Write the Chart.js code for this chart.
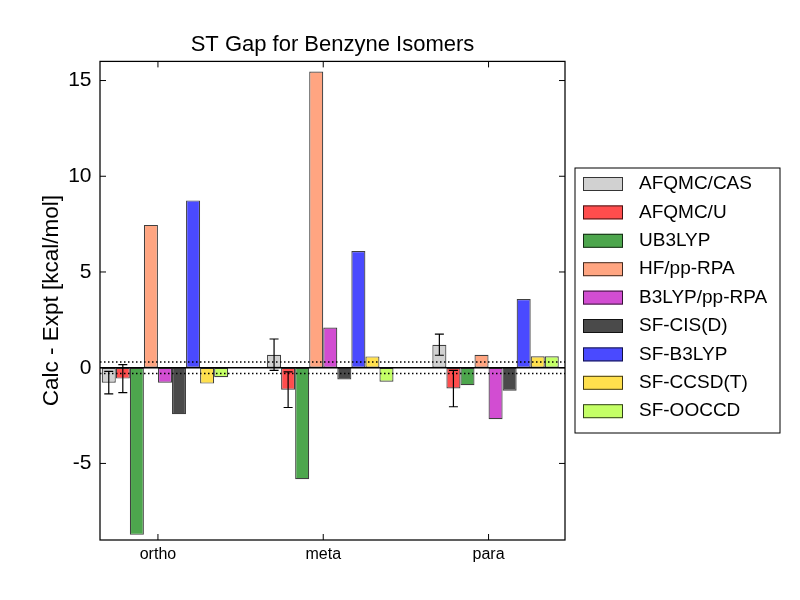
<!DOCTYPE html>
<html>
<head>
<meta charset="utf-8">
<title>ST Gap for Benzyne Isomers</title>
<script src="https://cdn.jsdelivr.net/npm/chart.js@4.4.0/dist/chart.umd.min.js"></script>
<style>
  html, body { margin: 0; padding: 0; background: #fff; }
</style>
</head>
<body>
<canvas id="gapChart" width="800" height="600"></canvas>
<script>
// isomers on the x axis
const groups = ['ortho', 'meta', 'para'];
const groupPos = [0, 1, 2];
const barWidth = 0.085;
const yTicks = [-5, 0, 5, 10, 15];
const exptErr = 0.3;

// Calc - Expt values (kcal/mol), one array per method
const afqmcCas = [-0.78, 0.68, 1.2];
const afqmcCasErr = [0.59, 0.82, 0.55];
const afqmcU = [-0.57, -1.15, -1.09];
const afqmcUErr = [0.73, 0.93, 0.95];
const ub3lyp = [-8.73, -5.83, -0.92];
const hfPpRpa = [7.46, 15.47, 0.68];
const b3lypPpRpa = [-0.78, 2.1, -2.69];
const sfCisD = [-2.43, -0.62, -1.2];
const sfB3lyp = [8.74, 6.1, 3.59];
const sfCcsdT = [-0.83, 0.59, 0.6];
const sfOoccd = [-0.5, -0.73, 0.6];

Chart.defaults.font.family = "'Liberation Sans', Arial, sans-serif";
Chart.defaults.color = '#000';

function makeSet(label, values, color, errors) {
  return {
    label: label,
    data: groupPos.map((p, i) => ({ x: p, y: values[i] })),
    backgroundColor: color,
    borderColor: 'rgba(0, 0, 0, 0.75)',
    borderWidth: 1.2,
    borderSkipped: false,
    errors: errors || null,
  };
}

const datasets = [
  makeSet('AFQMC/CAS', afqmcCas, '#d1d1d1', afqmcCasErr),
  makeSet('AFQMC/U', afqmcU, '#ff4d4d', afqmcUErr),
  makeSet('UB3LYP', ub3lyp, '#4da64d'),
  makeSet('HF/pp-RPA', hfPpRpa, '#ffa581'),
  makeSet('B3LYP/pp-RPA', b3lypPpRpa, '#d24dd2'),
  makeSet('SF-CIS(D)', sfCisD, '#4a4a4a'),
  makeSet('SF-B3LYP', sfB3lyp, '#4a4aff'),
  makeSet('SF-CCSD(T)', sfCcsdT, '#ffe04d'),
  makeSet('SF-OOCCD', sfOoccd, '#c4ff66'),
];

// zero line, expt error band, error bars, frame and inward ticks
const decorations = {
  id: 'decorations',
  afterDatasetsDraw(chart) {
    const ctx = chart.ctx;
    const area = chart.chartArea;
    const xs = chart.scales.x;
    const ys = chart.scales.y;
    ctx.save();

    ctx.strokeStyle = '#000';
    ctx.lineWidth = 1.5;
    ctx.beginPath();
    ctx.moveTo(area.left, ys.getPixelForValue(0));
    ctx.lineTo(area.right, ys.getPixelForValue(0));
    ctx.stroke();

    ctx.setLineDash([1.5, 2.5]);
    [exptErr, -exptErr].forEach(v => {
      const y = ys.getPixelForValue(v);
      ctx.beginPath();
      ctx.moveTo(area.left, y);
      ctx.lineTo(area.right, y);
      ctx.stroke();
    });
    ctx.setLineDash([]);

    ctx.lineWidth = 1.2;
    chart.data.datasets.forEach((ds, i) => {
      if (!ds.errors) return;
      chart.getDatasetMeta(i).data.forEach((bar, j) => {
        const v = ds.data[j].y;
        const top = ys.getPixelForValue(v + ds.errors[j]);
        const bot = ys.getPixelForValue(v - ds.errors[j]);
        ctx.beginPath();
        ctx.moveTo(bar.x, top);
        ctx.lineTo(bar.x, bot);
        ctx.moveTo(bar.x - 4.5, top);
        ctx.lineTo(bar.x + 4.5, top);
        ctx.moveTo(bar.x - 4.5, bot);
        ctx.lineTo(bar.x + 4.5, bot);
        ctx.stroke();
      });
    });

    ctx.lineWidth = 1.25;
    ctx.strokeRect(area.left, area.top, area.right - area.left, area.bottom - area.top);
    ctx.lineWidth = 1;
    ctx.beginPath();
    ys.ticks.forEach(t => {
      const y = ys.getPixelForValue(t.value);
      ctx.moveTo(area.left, y);
      ctx.lineTo(area.left + 6, y);
      ctx.moveTo(area.right, y);
      ctx.lineTo(area.right - 6, y);
    });
    xs.ticks.forEach(t => {
      const x = xs.getPixelForValue(t.value);
      ctx.moveTo(x, area.bottom);
      ctx.lineTo(x, area.bottom - 6);
      ctx.moveTo(x, area.top);
      ctx.lineTo(x, area.top + 6);
    });
    ctx.stroke();
    ctx.restore();
  },
  // boxed legend to the right of the plot
  afterDraw(chart) {
    const ctx = chart.ctx;
    const left = 575, top = 168, w = 205, h = 265;
    const rowH = 28.4;
    ctx.save();
    ctx.fillStyle = '#fff';
    ctx.fillRect(left, top, w, h);
    ctx.strokeStyle = '#000';
    ctx.lineWidth = 1;
    ctx.strokeRect(left, top, w, h);
    ctx.font = "19px 'Liberation Sans', Arial, sans-serif";
    ctx.textBaseline = 'middle';
    chart.data.datasets.forEach((ds, i) => {
      const cy = top + 16 + i * rowH;
      ctx.fillStyle = ds.backgroundColor;
      ctx.fillRect(left + 8, cy - 7, 40, 14);
      ctx.strokeStyle = ds.borderColor;
      ctx.strokeRect(left + 8.5, cy - 6.5, 39, 13);
      ctx.fillStyle = '#000';
      ctx.fillText(ds.label, left + 64, cy);
    });
    ctx.restore();
  }
};

const ctx = document.getElementById('gapChart').getContext('2d');
new Chart(ctx, {
  type: 'bar',
  data: { datasets: datasets },
  options: {
    responsive: false,
    animation: false,
    categoryPercentage: barWidth * datasets.length,
    barPercentage: 1.0,
    layout: { padding: { top: 0, right: 235, bottom: 0, left: 0 } },
    plugins: {
      legend: { display: false },
      tooltip: { enabled: false },
      title: {
        display: true,
        text: 'ST Gap for Benzyne Isomers',
        fullSize: false,
        color: '#000',
        font: { size: 22, weight: 'normal' },
        padding: { top: 32, bottom: 3 },
      },
    },
    scales: {
      x: {
        type: 'linear',
        min: -0.393,
        max: 2.42,
        offset: false,
        grid: { display: false, drawTicks: false },
        border: { display: false },
        afterBuildTicks: (scale) => {
          scale.ticks = groupPos.map(p => ({ value: p - barWidth / 2 }));
        },
        ticks: {
          padding: 5,
          autoSkip: false,
          maxRotation: 0,
          font: { size: 16 },
          callback: (value, index) => groups[index],
        },
        afterFit: (scale) => { scale.height = 60; },
      },
      y: {
        min: -9,
        max: 16,
        grid: { display: false, drawTicks: false },
        border: { display: false },
        afterBuildTicks: (scale) => {
          scale.ticks = yTicks.map(v => ({ value: v }));
        },
        ticks: { padding: 8.5, font: { size: 21 } },
        title: {
          display: true,
          text: 'Calc - Expt [kcal/mol]',
          font: { size: 22.5 },
          padding: { top: 38.5, bottom: 0 },
        },
        afterFit: (scale) => { scale.width = 100; },
      },
    },
  },
  plugins: [decorations],
});
</script>
</body>
</html>
